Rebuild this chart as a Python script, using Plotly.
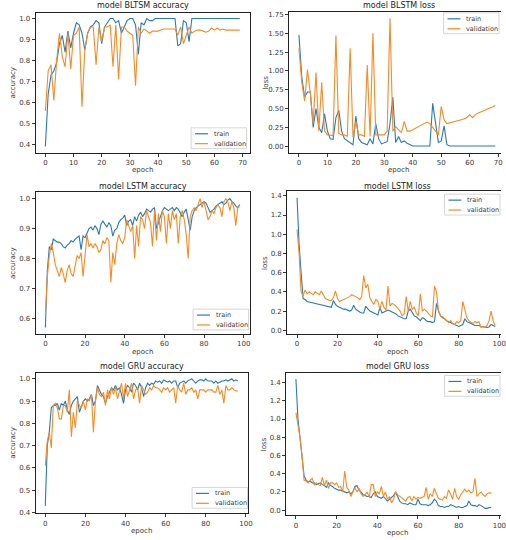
import plotly.graph_objects as go

# ---------------- data ----------------
blstm_acc_train = [0.39, 0.64, 0.73, 0.75, 0.79, 0.88, 0.92, 0.84, 0.94, 0.86,
                   0.93, 0.98, 0.97, 0.93, 0.85, 0.93, 0.96, 0.97, 0.99, 0.98,
                   0.88, 0.96, 0.98, 1.0, 1.0, 0.98, 0.99, 0.93, 0.96, 0.99,
                   1.0, 1.0, 0.97, 0.83, 0.98, 0.97, 1.0, 0.99, 0.99, 1.0,
                   1.0, 1.0, 1.0, 1.0, 1.0, 1.0, 1.0, 0.87, 0.88, 0.99,
                   0.98, 0.89, 1.0, 1.0, 1.0, 1.0, 1.0, 1.0, 1.0, 1.0,
                   1.0, 1.0, 1.0, 1.0, 1.0, 1.0, 1.0, 1.0, 1.0, 1.0]
blstm_acc_val = [0.56, 0.75, 0.78, 0.61, 0.80, 0.93, 0.82, 0.77, 0.93, 0.76,
                 0.92, 0.93, 0.96, 0.58, 0.85, 0.93, 0.96, 0.96, 0.78, 0.96,
                 0.89, 0.96, 0.96, 0.97, 0.77, 0.97, 0.71, 0.96, 0.96, 0.94,
                 0.93, 0.92, 0.68, 0.96, 0.93, 0.95, 0.94, 0.93, 0.94, 0.94,
                 0.94, 0.945, 0.95, 0.95, 0.95, 0.95, 0.95, 0.92, 0.96, 0.88,
                 0.92, 0.96, 0.93, 0.94, 0.945, 0.945, 0.94, 0.935, 0.94, 0.955,
                 0.945, 0.955, 0.945, 0.95, 0.945, 0.945, 0.945, 0.945, 0.945, 0.945]
blstm_loss_train = [1.48, 0.92, 0.65, 0.72, 0.72, 0.25, 0.5, 0.25, 0.18, 0.43,
                    0.2, 0.1, 0.09, 0.38, 0.48, 0.2, 0.1, 0.07, 0.05, 0.02,
                    0.4, 0.1, 0.05, 0.04, 0.02, 0.1, 0.03, 0.3, 0.1, 0.03,
                    0.04, 0.06, 0.3, 0.65, 0.05, 0.13, 0.05, 0.07, 0.04, 0.02,
                    0.003, 0.003, 0.003, 0.003, 0.003, 0.003, 0.003, 0.57, 0.3, 0.05,
                    0.07, 0.27, 0.02, 0.003, 0.003, 0.003, 0.003, 0.003, 0.003, 0.003,
                    0.003, 0.003, 0.003, 0.003, 0.003, 0.003, 0.003, 0.003, 0.003, 0.003]
blstm_loss_val = [1.3, 0.85, 0.6, 1.02, 0.7, 0.3, 0.98, 0.2, 0.85, 0.2,
                  0.15, 0.15, 0.14, 1.47, 0.17, 0.15, 0.15, 0.13, 1.3, 0.12,
                  0.33, 0.15, 0.15, 0.13, 1.08, 0.13, 1.5, 0.15, 0.15, 0.14,
                  0.15, 0.2, 1.7, 0.2, 0.26, 0.22, 0.18, 0.33, 0.2, 0.2,
                  0.22, 0.24, 0.26, 0.28, 0.3, 0.32, 0.3, 0.25, 0.2, 0.15,
                  0.53, 0.35, 0.3, 0.31, 0.32, 0.33, 0.34, 0.35, 0.36, 0.38,
                  0.42, 0.38, 0.42, 0.44, 0.45, 0.47, 0.49, 0.5, 0.52, 0.54]

lstm_acc_train = [0.57, 0.76, 0.84, 0.83, 0.865, 0.86, 0.855, 0.855, 0.85, 0.84,
                  0.835, 0.845, 0.85, 0.86, 0.855, 0.865, 0.87, 0.875, 0.83, 0.875,
                  0.87, 0.885, 0.9, 0.905, 0.895, 0.91, 0.9, 0.88, 0.915, 0.925,
                  0.915, 0.905, 0.92, 0.91, 0.875, 0.895, 0.9, 0.92, 0.93, 0.935,
                  0.945, 0.91, 0.925, 0.93, 0.91, 0.94, 0.925, 0.945, 0.955, 0.94,
                  0.95, 0.965, 0.96, 0.955, 0.965, 0.97, 0.9, 0.92, 0.945, 0.96,
                  0.97, 0.965, 0.96, 0.965, 0.97, 0.96, 0.97, 0.965, 0.95, 0.94,
                  0.955, 0.965, 0.93, 0.895, 0.94, 0.96, 0.97, 0.975, 0.98, 0.985,
                  0.99, 0.985, 0.97, 0.955, 0.96, 0.965, 0.975, 0.98, 0.985, 0.99,
                  0.98, 0.985, 0.995, 1.0, 0.99, 0.985, 0.975, 0.97, 0.98]
lstm_acc_val = [0.61, 0.74, 0.81, 0.85, 0.82, 0.78, 0.76, 0.74, 0.77, 0.75,
                0.72, 0.76, 0.78, 0.75, 0.74, 0.78, 0.81, 0.8, 0.82, 0.74,
                0.82, 0.88, 0.84, 0.85, 0.835, 0.85, 0.84, 0.82, 0.83, 0.86,
                0.85, 0.87, 0.86, 0.72, 0.82, 0.78, 0.85, 0.88, 0.86, 0.85,
                0.87, 0.93, 0.91, 0.89, 0.91, 0.8, 0.91, 0.84, 0.94, 0.93,
                0.9, 0.96, 0.94, 0.92, 0.84, 0.96, 0.86, 0.95, 0.89, 0.96,
                0.94, 0.85, 0.95, 0.9, 0.96, 0.93, 0.95, 0.85, 0.94, 0.96,
                0.93, 0.88, 0.8, 0.94, 0.96, 0.97, 0.96, 0.98, 1.0, 0.97,
                0.99, 0.96, 0.93, 0.94, 0.96, 0.95, 0.97, 0.98, 0.97, 0.94,
                0.99, 1.0, 0.99, 0.96, 0.99, 0.97, 0.91, 0.97, 0.98]
lstm_loss_train = [1.38, 0.9, 0.6, 0.33, 0.32, 0.3, 0.295, 0.29, 0.285, 0.28,
                   0.275, 0.27, 0.265, 0.26, 0.255, 0.25, 0.245, 0.24, 0.31, 0.27,
                   0.25, 0.24, 0.23, 0.22, 0.22, 0.21, 0.2, 0.21, 0.26, 0.22,
                   0.2, 0.19, 0.18, 0.18, 0.25, 0.22, 0.2, 0.19, 0.18, 0.17,
                   0.16, 0.24, 0.18, 0.19, 0.2, 0.21, 0.2, 0.19, 0.18, 0.17,
                   0.15, 0.14, 0.13, 0.12, 0.12, 0.2, 0.22, 0.18, 0.15, 0.14,
                   0.12, 0.1, 0.13, 0.12, 0.1, 0.09, 0.09, 0.08, 0.09, 0.28,
                   0.2, 0.15, 0.13, 0.12, 0.1, 0.09, 0.08, 0.07, 0.06, 0.05,
                   0.04, 0.05, 0.06, 0.12, 0.09, 0.08, 0.07, 0.06, 0.05, 0.05,
                   0.05, 0.04, 0.035, 0.03, 0.03, 0.035, 0.06, 0.05, 0.04]
lstm_loss_val = [1.05, 0.8, 0.4, 0.36, 0.42, 0.38, 0.4, 0.38, 0.37, 0.4,
                 0.38, 0.37, 0.41, 0.36, 0.33, 0.32, 0.31, 0.31, 0.34, 0.41,
                 0.33, 0.3, 0.31, 0.32, 0.33, 0.34, 0.35, 0.37, 0.36, 0.35,
                 0.34, 0.32, 0.35, 0.57, 0.44, 0.48, 0.34, 0.3, 0.27, 0.32,
                 0.3, 0.22, 0.3, 0.24, 0.21, 0.46, 0.25, 0.28, 0.27, 0.25,
                 0.22, 0.2, 0.15, 0.17, 0.35, 0.2, 0.3, 0.22, 0.24, 0.18,
                 0.15, 0.38, 0.2, 0.22, 0.2, 0.17, 0.15, 0.14, 0.46, 0.4,
                 0.2, 0.15, 0.14, 0.12, 0.1, 0.08, 0.1, 0.07, 0.06, 0.09,
                 0.08, 0.1, 0.3, 0.2, 0.13, 0.1, 0.08, 0.07, 0.09, 0.08,
                 0.09, 0.03, 0.04, 0.03, 0.05, 0.1, 0.2, 0.1, 0.05]

gru_acc_train = [0.43, 0.7, 0.76, 0.87, 0.88, 0.88, 0.89, 0.86, 0.89, 0.88,
                 0.9, 0.86, 0.84, 0.88, 0.9, 0.91, 0.92, 0.85, 0.88, 0.9,
                 0.91, 0.9, 0.91, 0.93, 0.88, 0.9, 0.97, 0.95, 0.93, 0.92,
                 0.89, 0.92, 0.94, 0.96, 0.95, 0.97, 0.95, 0.96, 0.93, 0.89,
                 0.95, 0.97, 0.96, 0.94, 0.98, 0.97, 0.95, 0.98, 0.96, 0.92,
                 0.96, 0.98, 0.97, 0.98, 0.975, 0.99, 0.985, 0.99, 0.98, 0.995,
                 0.99, 0.985, 0.99, 0.98, 0.99, 0.99, 0.96, 0.98, 0.985, 0.99,
                 0.98, 0.99, 0.995, 1.0, 0.99, 0.98, 0.99, 0.995, 0.995, 0.99,
                 1.0, 0.99, 0.99, 0.99, 0.98, 0.99, 0.98, 0.985, 0.99, 0.99,
                 0.995, 0.99, 0.995, 1.0, 0.99, 0.995, 0.99]
gru_acc_val = [0.61, 0.72, 0.76, 0.69, 0.88, 0.89, 0.87, 0.82, 0.82, 0.88,
               0.88, 0.85, 0.95, 0.74, 0.85, 0.78, 0.9, 0.88, 0.87, 0.9,
               0.86, 0.91, 0.9, 0.93, 0.76, 0.9, 0.96, 0.93, 0.92, 0.94,
               0.88, 0.95, 0.91, 0.96, 0.93, 0.96, 0.91, 0.94, 0.98, 0.91,
               0.98, 0.92, 0.95, 0.98, 0.91, 0.95, 0.96, 0.89, 0.97, 0.95,
               0.93, 0.94, 0.96, 0.95, 0.97, 0.96, 0.96, 0.95, 0.94, 0.96,
               0.95, 0.96, 0.94, 0.95, 0.96, 0.89, 0.97, 0.95, 0.94, 0.98,
               0.93, 0.95, 0.95, 0.96, 0.94, 0.95, 0.91, 0.95, 0.95, 0.95,
               0.94, 0.95, 0.95, 0.95, 0.94, 0.94, 0.97, 0.93, 0.95, 0.89,
               0.97, 0.95, 0.95, 0.96, 0.95, 0.945, 0.945]
gru_loss_train = [1.44, 1.0, 0.8, 0.55, 0.38, 0.33, 0.31, 0.32, 0.3, 0.3,
                  0.28, 0.29, 0.3, 0.28, 0.27, 0.25, 0.3, 0.27, 0.26, 0.24,
                  0.23, 0.22, 0.22, 0.21, 0.2, 0.19, 0.2, 0.18, 0.2, 0.26,
                  0.27, 0.22, 0.2, 0.17, 0.16, 0.15, 0.15, 0.14, 0.18, 0.2,
                  0.15, 0.14, 0.13, 0.15, 0.12, 0.1, 0.12, 0.14, 0.16, 0.2,
                  0.14, 0.1, 0.08, 0.07, 0.07, 0.06, 0.08, 0.07, 0.06, 0.06,
                  0.12, 0.07, 0.06, 0.06, 0.06, 0.05, 0.06, 0.08, 0.12, 0.1,
                  0.05, 0.04, 0.04, 0.03, 0.04, 0.04, 0.06, 0.05, 0.04, 0.03,
                  0.04, 0.03, 0.03, 0.04, 0.05, 0.1, 0.06, 0.05, 0.05, 0.04,
                  0.06, 0.05, 0.03, 0.02, 0.02, 0.03, 0.03]
gru_loss_val = [1.07, 0.95, 0.8, 0.6, 0.33, 0.32, 0.3, 0.33, 0.35, 0.28,
                0.3, 0.28, 0.27, 0.36, 0.27, 0.33, 0.24, 0.3, 0.3, 0.28,
                0.3, 0.25, 0.26, 0.2, 0.43, 0.25, 0.22, 0.15, 0.2, 0.25,
                0.2, 0.24, 0.18, 0.15, 0.17, 0.2, 0.14, 0.28, 0.28, 0.15,
                0.2, 0.18, 0.26, 0.15, 0.2, 0.12, 0.15, 0.08, 0.12, 0.2,
                0.17, 0.15, 0.13, 0.12, 0.1, 0.14, 0.15, 0.1, 0.15, 0.12,
                0.14, 0.13, 0.14, 0.15, 0.25, 0.12, 0.18, 0.15, 0.24, 0.18,
                0.13, 0.12, 0.11, 0.15, 0.13, 0.22, 0.18, 0.12, 0.24, 0.15,
                0.12, 0.17, 0.2, 0.23, 0.2, 0.22, 0.19, 0.2, 0.35, 0.15,
                0.18, 0.2, 0.17, 0.15, 0.18, 0.19, 0.19]

titles = ["model BLTSM accuracy", "model BLSTM loss",
          "model LSTM accuracy", "model LSTM loss",
          "model GRU accuracy", "model GRU loss"]
series_names = ["train", "validation"]
y_labels = ["accuracy", "loss", "accuracy", "loss", "accuracy", "loss"]
x_label = "epoch"

# ---------------- layout constants ----------------
W, H = 506, 540
BLUE, ORANGE = "#2a7ab8", "#f98a24"
FONT = "DejaVu Sans"
TXT = "#3a3a3a"

def fx(p):
    return p / W

def fy(p):
    return 1 - p / H

# (left, right, top, bottom) in px
panels = [(36, 252, 12, 153), (292, 506, 11, 153),
          (36, 252, 193, 336), (290, 506, 192, 336),
          (36, 250, 375, 517), (289, 506, 375, 519)]
xranges = [[-3.45, 72.45], [-3.45, 71.0], [-4.9, 102.9], [-4.9, 100.9],
           [-4.8, 100.8], [-4.8, 100.8]]
yranges = [[0.361, 1.027], [-0.085, 1.785], [0.5485, 1.0215], [-0.0375, 1.4475],
           [0.397, 1.028], [-0.055, 1.51]]
xticks = [list(range(0, 71, 10)), list(range(0, 71, 10)),
          list(range(0, 101, 20)), list(range(0, 101, 20)),
          list(range(0, 101, 20)), list(range(0, 101, 20))]
yticks = [[0.4, 0.5, 0.6, 0.7, 0.8, 0.9, 1.0],
          [0, 0.25, 0.5, 0.75, 1.0, 1.25, 1.5, 1.75],
          [0.6, 0.7, 0.8, 0.9, 1.0],
          [0, 0.2, 0.4, 0.6, 0.8, 1.0, 1.2, 1.4],
          [0.4, 0.5, 0.6, 0.7, 0.8, 0.9, 1.0],
          [0, 0.2, 0.4, 0.6, 0.8, 1.0, 1.2, 1.4]]
yfmt = [".1f", ".2f", ".1f", ".1f", ".1f", ".1f"]
title_y = [5, 5, 187, 187, 369, 369]
legend_boxes = [(193, 128), (448, 12), (195, 311), (449, 195), (194, 491), (449, 378)]

data = [(blstm_acc_train, blstm_acc_val), (blstm_loss_train, blstm_loss_val),
        (lstm_acc_train, lstm_acc_val), (lstm_loss_train, lstm_loss_val),
        (gru_acc_train, gru_acc_val), (gru_loss_train, gru_loss_val)]

fig = go.Figure()
annotations = []
shapes = []

for i, (tr, va) in enumerate(data):
    n = i + 1
    xa = "x" if n == 1 else f"x{n}"
    ya = "y" if n == 1 else f"y{n}"
    for vals, col, name in ((tr, BLUE, series_names[0]), (va, ORANGE, series_names[1])):
        fig.add_trace(go.Scatter(x=list(range(len(vals))), y=vals, mode="lines",
                                 line=dict(color=col, width=1.1), name=name,
                                 xaxis=xa, yaxis=ya, showlegend=False))
    l, r, t, b = panels[i]
    right_side = (i % 2 == 1)
    xkey = "xaxis" if n == 1 else f"xaxis{n}"
    ykey = "yaxis" if n == 1 else f"yaxis{n}"
    fig.update_layout(**{
        xkey: dict(domain=[fx(l), fx(r)], range=xranges[i], anchor=ya,
                   tickvals=xticks[i], ticks="outside", ticklen=3, tickwidth=0.8,
                   tickcolor=TXT, showline=True, linecolor="#222", linewidth=0.9,
                   mirror=True, showgrid=False, zeroline=False,
                   ticklabeloverflow="allow",
                   tickfont=dict(family=FONT, size=7, color=TXT)),
        ykey: dict(domain=[fy(b), fy(t)], range=yranges[i], anchor=xa,
                   tickvals=yticks[i], tickformat=yfmt[i], ticks="outside",
                   ticklen=3, tickwidth=0.8, tickcolor=TXT, showline=True,
                   linecolor="#222", linewidth=0.9, mirror=not right_side,
                   showgrid=False, zeroline=False,
                   tickfont=dict(family=FONT, size=7, color=TXT)),
    })
    # title
    cx = (l + r) / 2 if not right_side else (l + 513) / 2
    annotations.append(dict(text=titles[i], x=fx(cx), y=fy(title_y[i]),
                            xref="paper", yref="paper",
                            xanchor="center", yanchor="middle", showarrow=False,
                            font=dict(family=FONT, size=8, color="#222")))
    # x label
    annotations.append(dict(text=x_label, x=fx((l + r) / 2 if not right_side else cx),
                            y=fy(b + 18),
                            xref="paper", yref="paper", xanchor="center",
                            yanchor="middle", showarrow=False,
                            font=dict(family=FONT, size=7, color=TXT)))
    # y label
    annotations.append(dict(text=y_labels[i], x=fx(l - 23), y=fy((t + b) / 2),
                            xref="paper", yref="paper", xanchor="center",
                            yanchor="middle", textangle=-90, showarrow=False,
                            font=dict(family=FONT, size=7, color=TXT)))
    # legend (drawn manually, matplotlib style)
    bx, by = legend_boxes[i]
    shapes.append(dict(type="rect", xref="paper", yref="paper",
                       x0=fx(bx), x1=fx(bx + 56), y0=fy(by), y1=fy(by + 21),
                       line=dict(color="#cccccc", width=0.8), fillcolor="white",
                       layer="above"))
    for k, (col, name) in enumerate(((BLUE, series_names[0]), (ORANGE, series_names[1]))):
        yy = by + 6 + 10 * k
        shapes.append(dict(type="line", xref="paper", yref="paper",
                           x0=fx(bx + 4), x1=fx(bx + 17), y0=fy(yy), y1=fy(yy),
                           line=dict(color=col, width=1.2), layer="above"))
        annotations.append(dict(text=name, x=fx(bx + 21), y=fy(yy),
                                xref="paper", yref="paper", xanchor="left",
                                yanchor="middle", showarrow=False,
                                font=dict(family=FONT, size=6.5, color=TXT)))

fig.update_layout(width=W, height=H, margin=dict(l=0, r=0, t=0, b=0),
                  paper_bgcolor="white", plot_bgcolor="white",
                  showlegend=False, annotations=annotations, shapes=shapes)

fig.write_html("out.html", config={"displayModeBar": False},
               post_script="document.body.style.margin='0';"
                           "document.body.style.overflow='hidden';")
